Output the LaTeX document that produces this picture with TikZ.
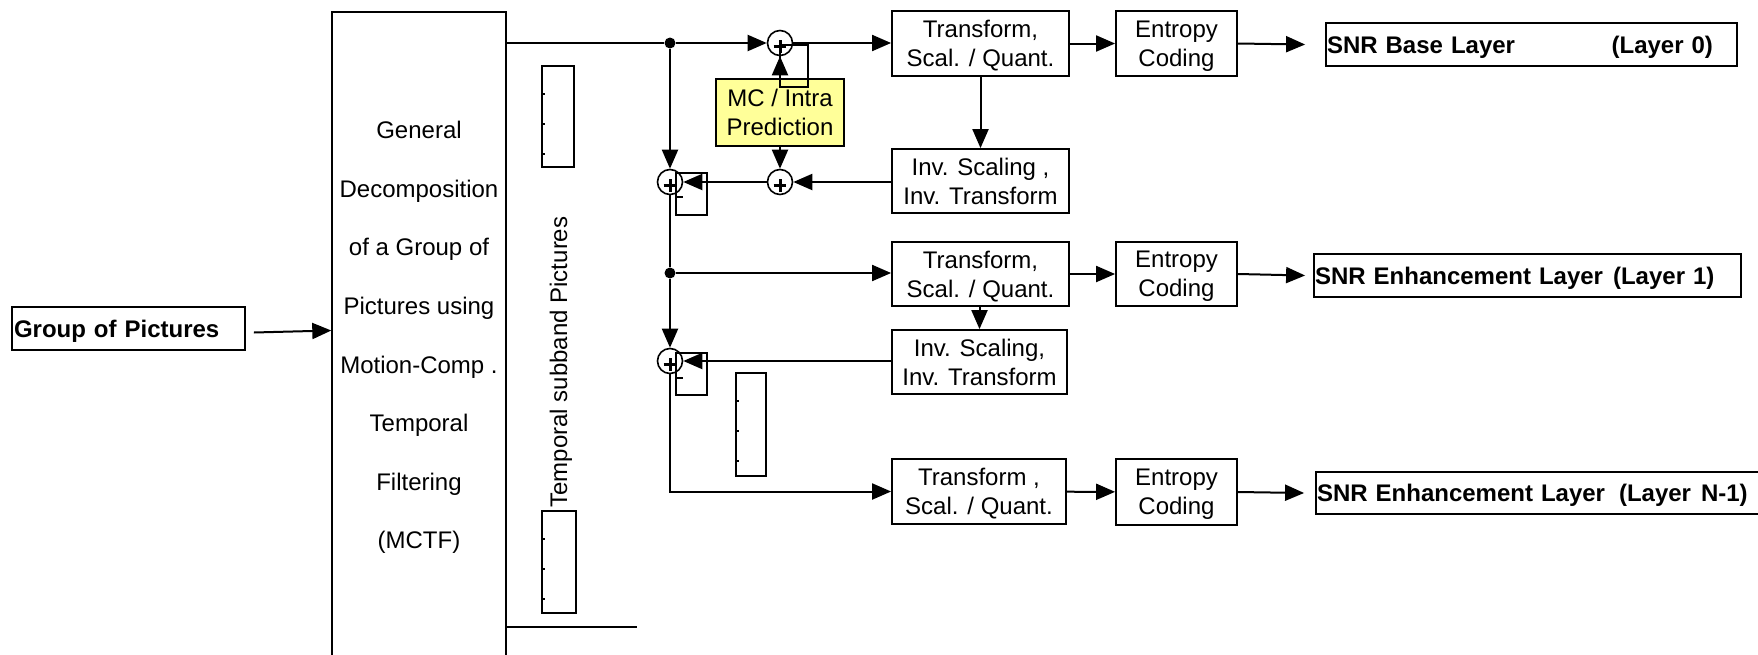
\documentclass[tikz,border=0pt]{standalone}
\usepackage{fontspec}
\setmainfont{Liberation Sans}
\usetikzlibrary{arrows.meta,calc}
\definecolor{mcyellow}{HTML}{FFFF99}
\begin{document}
\begin{tikzpicture}[x=0.5pt,y=-0.5pt,
  arr/.style={line width=1pt,-{Triangle[length=9.5pt,width=8pt]}},
  ln/.style={line width=1pt},
  blk/.style={draw,line width=0.9pt,inner sep=0pt,align=center,text depth=-1pt,font=\fontsize{12}{14.5}\selectfont},
  lbl/.style={draw,line width=0.9pt,inner ysep=0pt,inner xsep=0.5pt,align=left,text depth=-0.5pt,font=\fontsize{12}{14.5}\selectfont\bfseries},
  sub/.style={draw,line width=0.7pt,inner sep=0pt},
  tick/.style={line width=1pt},
  adder/.style={circle,draw,line width=0.8pt,minimum size=12.5pt,inner sep=0pt},
  plusbar/.style={line width=1.5pt},
  dotn/.style={circle,fill,minimum size=5.5pt,inner sep=0pt},
  auxrect/.style={line width=0.8pt},
  minus/.style={line width=1.3pt}]

\useasboundingbox (0,0) rectangle (1758,654);
\clip (0,0) rectangle (1758,654);

% input
\node[draw,line width=0.9pt,inner ysep=0pt,inner xsep=1pt,text width=114.5pt,minimum height=21.5pt,align=left,text depth=-0.5pt,font=\fontsize{12}{14.5}\selectfont\bfseries] (gop) at (128.5,328.5) {Group of Pictures};

% MCTF block
\node[draw,line width=0.7pt,minimum width=87pt,minimum height=323pt,inner sep=0pt,align=center,text depth=0pt,font=\fontsize{12}{29.3}\selectfont] (mctf) at (419,335)
 {General\\Decomposition\\of a Group of\\Pictures using\\Motion-Comp .\\Temporal\\Filtering\\(MCTF)};

\draw[arr] ([xshift=4pt,yshift=-2pt]gop.east) -- ([yshift=-1pt]gop.east -| mctf.west);

% subband pictures
\node[sub,minimum width=16pt,minimum height=50.5pt] (sb1) at (558,116.5) {};
\node[sub,minimum width=17pt,minimum height=51pt] (sb2) at (559,562) {};
\node[sub,minimum width=15pt,minimum height=51.5pt] (sb3) at (751,424.5) {};
\foreach \s in {sb1,sb2,sb3}{
  \foreach \d in {14.5pt,29.5pt,44.5pt}{
    \draw[tick] ([yshift=-\d]\s.north west) -- ++(2pt,0pt);
  }
}
\node[rotate=90,inner sep=0pt,font=\fontsize{12}{14.5}\selectfont] (tsp) at (561,362) {Temporal subband Pictures};

% points on the main path
\node[dotn] (d1) at (670,43) {};
\node[dotn] (d2) at (670,273) {};
\coordinate (bl) at (637,627);
\draw[ln] (mctf.east |- d1) -- (d1);
\draw[ln] (mctf.east |- bl) -- (bl);

% adders
\node[adder] (addT) at (780,43) {};
\node[adder] (addM) at (780,182) {};
\node[adder] (addL1) at (670,182) {};
\node[adder] (addL2) at (670,361) {};

% processing blocks
\node[blk,minimum width=88.5pt,minimum height=32.5pt] (T1) at (980.5,43.5) {Transform,\\Scal. / Quant.};
\node[blk,minimum width=60.5pt,minimum height=32.5pt] (E1) at (1176.5,43.5) {Entropy\\Coding};
\node[blk,minimum width=88.5pt,minimum height=32pt] (I1) at (980.5,181) {Inv. Scaling ,\\Inv. Transform};
\node[blk,minimum width=88.5pt,minimum height=32pt] (T2) at (980.5,274) {Transform,\\Scal. / Quant.};
\node[blk,minimum width=60.5pt,minimum height=32pt] (E2) at (1176.5,274) {Entropy\\Coding};
\node[blk,minimum width=87.5pt,minimum height=32pt] (I2) at (979.5,362) {Inv. Scaling,\\Inv. Transform};
\node[blk,minimum width=87pt,minimum height=32.5pt] (T3) at (979,491.5) {Transform ,\\Scal. / Quant.};
\node[blk,minimum width=60.5pt,minimum height=33pt] (E3) at (1176.5,492) {Entropy\\Coding};

% output labels
\node[lbl,text width=204.5pt,minimum height=21.5pt] (S1) at (1531.5,44.5) {\makebox[193pt][l]{SNR Base Layer\hfill(Layer 0)}};
\node[lbl,text width=212.5pt,minimum height=21.5pt] (S2) at (1527.5,275.5) {SNR Enhancement Layer\hspace{1pt} (Layer 1)};
\node[lbl,text width=229pt,minimum height=21pt] (Sn) at (1546,493) {SNR Enhancement Layer\hspace{3pt} (Layer\hspace{1pt} N-1)};

% MC / Intra prediction
\draw[auxrect] (780,45) rectangle (808,87);
\node[blk,fill=mcyellow,line width=0.9pt,minimum width=64pt,minimum height=33.5pt] (mc) at (780,112.5) {MC / Intra\\Prediction};
\draw[auxrect] (780,79) -- (780,87) -- (808,87) -- (808,79);

% helper rectangles and minus signs at the left adders
\draw[auxrect] (676,173) rectangle (707,215);
\draw[minus] (676,197) -- (683,197);
\draw[auxrect] (676,353) rectangle (707,395);
\draw[minus] (676,378) -- (683,378);

% connectors, base layer
\draw[arr] (d1) -- (addT);
\draw[arr] (addT.east) -- (addT.east -| T1.west);
\draw[arr] (T1) -- (E1);
\draw[arr] (E1.east) -- ([xshift=-10pt]S1.west);
\draw[arr] (T1.south) -- (I1.north);
\draw[arr] (I1.west |- addM) -- (addM);
\draw[arr] (mc.north) -- (addT.south);
\draw[arr] (mc.south) -- (addM.north);
\draw[arr] (addM) -- (addL1);
\draw[arr] (d1) -- (addL1);

% enhancement layer 1
\draw[ln] (addL1) -- (d2);
\draw[arr] (d2) -- (d2 -| T2.west);
\draw[arr] (T2) -- (E2);
\draw[arr] (E2.east) -- ([xshift=-4pt]S2.west);
\draw[arr] (T2.south -| I2.north) -- (I2.north);
\draw[arr] (I2.west |- addL2) -- (addL2);
\draw[arr] (d2) -- (addL2);

% enhancement layer N-1
\draw[arr] (addL2.south) |- (T3.west);
\draw[arr] (T3) -- (E3);
\draw[arr] (E3.east) -- ([xshift=-5.5pt]Sn.west);

% plus signs inside the adders
\foreach \a in {addT,addM,addL1,addL2}{
  \draw[plusbar] ([shift={(-3.2pt,-1.8pt)}]\a.center) -- ++(6.4pt,0pt);
  \draw[plusbar] ([shift={(0pt,-5pt)}]\a.center) -- ++(0pt,6.4pt);
}
\end{tikzpicture}
\end{document}
